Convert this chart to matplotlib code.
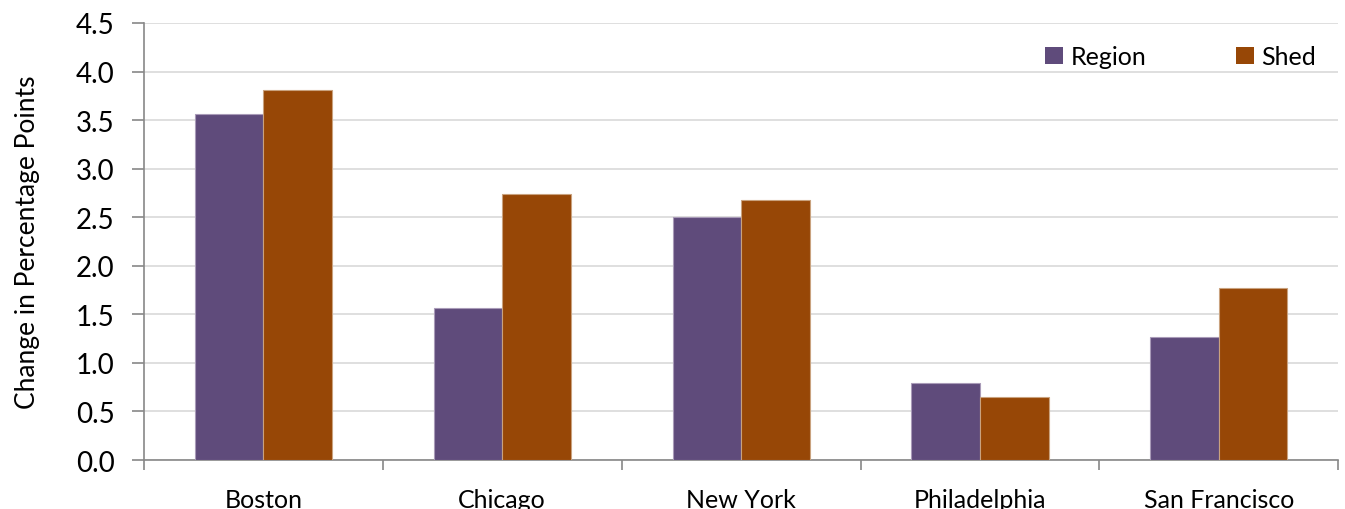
import numpy as np
import matplotlib.pyplot as plt
from matplotlib.patches import Patch

cities = ["Boston", "Chicago", "New York", "Philadelphia", "San Francisco"]
region = [3.56, 1.57, 2.50, 0.79, 1.27]
shed = [3.81, 2.74, 2.68, 0.65, 1.77]

plt.rcParams['font.family'] = ['Lato', 'DejaVu Sans']

fig = plt.figure(figsize=(13.45, 5.10), dpi=100)
ax = fig.add_axes([0.107, 0.096, 0.888, 0.857])

x = np.arange(len(cities))
w = 0.287
ax.bar(x - w / 2, region, w, color="#5F4B7B", edgecolor="#A99BB8", linewidth=0.8, zorder=3, label="Region")
ax.bar(x + w / 2, shed, w, color="#974706", edgecolor="#C9A27E", linewidth=0.8, zorder=3, label="Shed")

ax.set_xlim(-0.5, len(cities) - 0.5)
ax.set_ylim(0, 4.5)
ax.set_yticks(np.arange(0, 4.51, 0.5))
ax.set_yticklabels(["%.1f" % v for v in np.arange(0, 4.51, 0.5)], fontsize=20)
ax.yaxis.grid(True, color="#D9D9D9", linewidth=1.2, zorder=0)

ax.set_xticks(x)
ax.set_xticklabels(cities, fontsize=18)
ax.tick_params(axis="x", which="major", length=0, pad=20)
ax.set_xticks(np.arange(-0.5, len(cities), 1.0), minor=True)
ax.tick_params(axis="x", which="minor", length=7, color="#888888", width=1.2)
ax.tick_params(axis="y", length=9, color="#888888", width=1.2, pad=12)

for s in ["top", "right"]:
    ax.spines[s].set_visible(False)
for s in ["left", "bottom"]:
    ax.spines[s].set_color("#888888")
    ax.spines[s].set_linewidth(1.2)

ax.set_ylabel("Change in Percentage Points", fontsize=19, labelpad=26)

handles = [Patch(facecolor="#5F4B7B", label="Region"), Patch(facecolor="#974706", label="Shed")]
ax.legend(handles=handles, loc="upper right", bbox_to_anchor=(1.0, 1.0), ncol=2, frameon=False,
          fontsize=18, handlelength=0.7, handleheight=0.7, handletextpad=0.3, columnspacing=3.6)

fig.savefig("out.png", dpi=100)
